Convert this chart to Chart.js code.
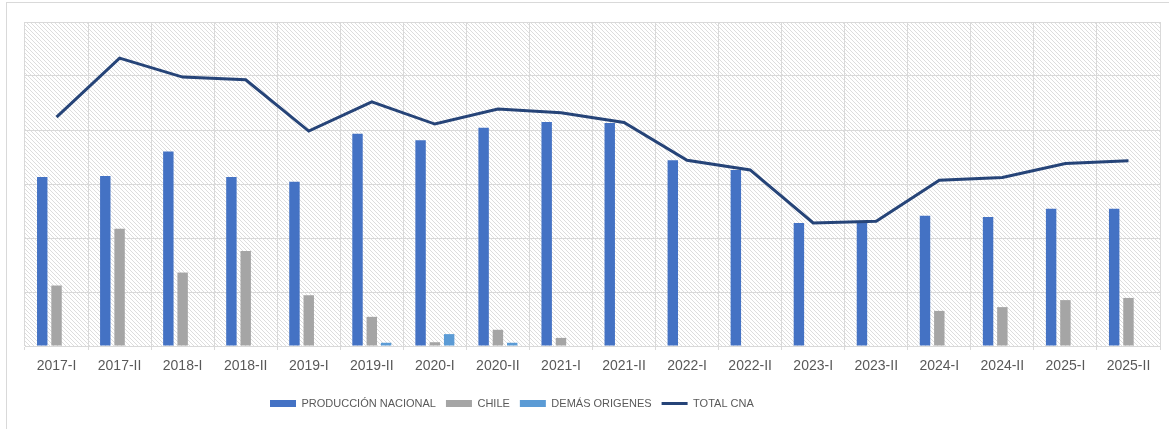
<!DOCTYPE html>
<html>
<head>
<meta charset="utf-8">
<script src="https://cdn.jsdelivr.net/npm/chart.js@4.4.1/dist/chart.umd.min.js"></script>
<style>
  html, body { margin: 0; padding: 0; background: #fff; overflow: hidden; }
  .frame {
    position: absolute; left: 6px; top: 2px; width: 1170px; height: 440px;
    border: 1px solid #d9d9d9; box-sizing: border-box;
  }
  .wrap { position: absolute; left: 0; top: 0; width: 1169px; height: 429px; }
</style>
</head>
<body>
<div class="frame"></div>
<div class="wrap"><canvas id="chart" width="1169" height="429"></canvas></div>
<script>
// Chart data (one gridline = 100 units)
const periods = ['2017-I', '2017-II', '2018-I', '2018-II', '2019-I', '2019-II',
  '2020-I', '2020-II', '2021-I', '2021-II', '2022-I', '2022-II',
  '2023-I', '2023-II', '2024-I', '2024-II', '2025-I', '2025-II'];

const produccionNacional = [313, 315, 360, 313, 304, 393, 381, 404, 415, 413,
  344, 326, 228, 229, 241, 239, 254, 254];
const chile = [112, 217, 136, 176, 94, 54, 7, 30, 15, 0,
  0, 0, 0, 0, 65, 72, 85, 89];
const demasOrigenes = [0, 0, 0, 0, 0, 6, 22, 6, 0, 0,
  0, 0, 0, 0, 0, 0, 0, 0];
const totalCna = [424, 533, 498, 493, 398, 452, 411, 439, 432, 414,
  344, 326, 228, 231, 307, 312, 338, 343];

const yMax = 600;
const yStep = 100;

// diagonal hatch used as plot-area background
function makeHatch() {
  const tile = document.createElement('canvas');
  tile.width = 4;
  tile.height = 4;
  const t = tile.getContext('2d');
  t.fillStyle = '#ffffff';
  t.fillRect(0, 0, 4, 4);
  t.fillStyle = '#dddddd';
  for (let i = 0; i < 4; i++) {
    t.fillRect(i, i, 1, 1);
  }
  return t.createPattern(tile, 'repeat');
}

const hatchBackground = {
  id: 'hatchBackground',
  beforeDraw(chart) {
    const { ctx, chartArea: a } = chart;
    ctx.save();
    ctx.fillStyle = makeHatch();
    ctx.fillRect(a.left, a.top, a.right - a.left, a.bottom - a.top);
    ctx.restore();
  }
};

// the legend in the original sits left of centre
const legendStartX = 270;
const legendShift = {
  id: 'legendShift',
  afterUpdate(chart) {
    const lg = chart.legend;
    if (!lg || !lg.lineWidths) return;
    const pad = lg.options.labels.padding;
    const current = (lg.left + pad + lg.right - lg.lineWidths[0]) / 2;
    const shift = legendStartX - current;
    lg.left += shift;
    lg.right += shift;
  }
};

const textColor = '#595959';
const gridColor = '#d9d9d9';

new Chart(document.getElementById('chart').getContext('2d'), {
  type: 'bar',
  data: {
    labels: periods,
    datasets: [
      {
        label: 'PRODUCCIÓN NACIONAL',
        data: produccionNacional,
        backgroundColor: '#4472C4',
        order: 1
      },
      {
        label: 'CHILE',
        data: chile,
        backgroundColor: '#A5A5A5',
        order: 1
      },
      {
        label: 'DEMÁS ORIGENES',
        data: demasOrigenes,
        backgroundColor: '#5B9BD5',
        order: 1
      },
      {
        type: 'line',
        label: 'TOTAL CNA',
        data: totalCna,
        borderColor: '#264478',
        backgroundColor: '#264478',
        borderWidth: 3,
        pointRadius: 0,
        tension: 0,
        order: 0
      }
    ]
  },
  options: {
    responsive: false,
    animation: false,
    devicePixelRatio: 1,
    datasets: {
      bar: {
        categoryPercentage: 0.68,
        barPercentage: 0.73
      }
    },
    layout: {
      padding: { left: 25, right: 9, top: 22, bottom: 10 }
    },
    scales: {
      x: {
        grid: {
          display: true,
          color: gridColor,
          lineWidth: 1,
          offset: true,
          drawTicks: true,
          tickLength: 4
        },
        border: { display: true, color: gridColor },
        ticks: {
          color: textColor,
          font: { family: 'Liberation Sans', size: 14 },
          padding: 8,
          maxRotation: 0,
          autoSkip: false
        },
        afterFit(scale) {
          scale.height = 42;
        }
      },
      y: {
        min: 0,
        max: yMax,
        grid: {
          color: gridColor,
          lineWidth: 1,
          drawTicks: false
        },
        border: { display: false },
        ticks: {
          display: false,
          stepSize: yStep
        }
      }
    },
    plugins: {
      tooltip: { enabled: false },
      legend: {
        position: 'bottom',
        labels: {
          color: textColor,
          font: { family: 'Liberation Sans', size: 11 },
          usePointStyle: true,
          pointStyleWidth: 26,
          boxHeight: 7,
          padding: 10,
          sort: (a, b) => a.datasetIndex - b.datasetIndex,
          generateLabels(chart) {
            const items = Chart.defaults.plugins.legend.labels.generateLabels(chart);
            items.forEach(item => {
              const ds = chart.data.datasets[item.datasetIndex];
              if (ds.type === 'line') {
                item.pointStyle = 'line';
                item.strokeStyle = ds.borderColor;
                item.lineWidth = 3;
              } else {
                item.pointStyle = 'rect';
                item.lineWidth = 0;
                item.strokeStyle = ds.backgroundColor;
              }
            });
            return items;
          }
        }
      }
    }
  },
  plugins: [hatchBackground, legendShift]
});
</script>
</body>
</html>
